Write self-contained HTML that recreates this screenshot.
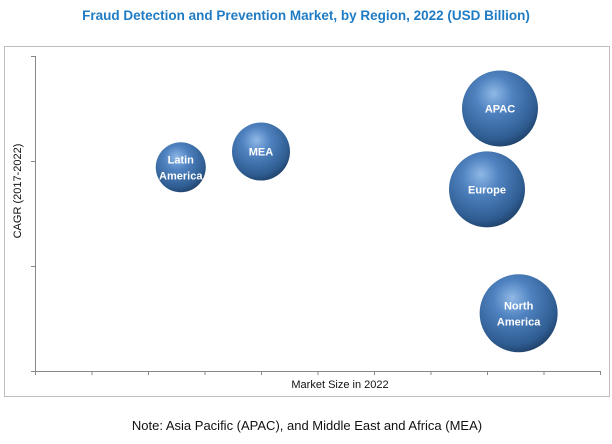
<!DOCTYPE html>
<html><head><meta charset="utf-8"><style>
body{margin:0;background:#fff;width:612px;height:439px;overflow:hidden}
svg text{font-family:"Liberation Sans",sans-serif}
</style></head><body>
<svg width="612" height="439">
<defs>
<radialGradient id="g" cx="0.42" cy="0.35" r="0.7" fx="0.42" fy="0.3">
<stop offset="0" stop-color="#8fb8e6"/>
<stop offset="0.35" stop-color="#4f82c0"/>
<stop offset="0.8" stop-color="#2f5d92"/>
<stop offset="1" stop-color="#1d3c62"/>
</radialGradient>
</defs>
<text x="306" y="20" text-anchor="middle" font-size="13.5" font-weight="bold" fill="#1f7cc4">Fraud Detection and Prevention Market, by Region, 2022 (USD Billion)</text>
<rect x="4.5" y="46.5" width="605" height="350" fill="none" stroke="#bdbdbd"/>
<g id="axes"></g>
<g id="bubbles"></g>
<text x="340" y="388" text-anchor="middle" font-size="11" fill="#111">Market Size in 2022</text>
<text transform="translate(21,191) rotate(-90)" text-anchor="middle" font-size="11" fill="#111">CAGR (2017-2022)</text>
<text x="307" y="430" text-anchor="middle" font-size="13" fill="#111">Note: Asia Pacific (APAC), and Middle East and Africa (MEA)</text>
</svg>
<script>
const regions=["Latin America","MEA","APAC","Europe","North America"];
const labelLines=[["Latin","America"],["MEA"],["APAC"],["Europe"],["North","America"]];
const marketSize=[2.58,4.0,8.23,8.0,8.56];
const cagr=[1.94,2.09,2.5,1.73,0.55];
const bubbleRadius=[25,29,38,38,39];
const xTicks=[0,1,2,3,4,5,6,7,8,9,10];
const yTicks=[0,1,2,3];
const ns="http://www.w3.org/2000/svg";
const X0=35,X1=600,Y0=371,Y1=56;
const xs=v=>X0+(X1-X0)*v/10;
const ys=v=>Y0-(Y0-Y1)*v/3;
const ax=document.getElementById('axes');
function ln(x1,y1,x2,y2,name){const l=document.createElementNS(ns,'line');
l.setAttribute('x1',x1);l.setAttribute('y1',y1);l.setAttribute('x2',x2);l.setAttribute('y2',y2);
l.setAttribute('stroke','#888');l.setAttribute('stroke-width','1');


ax.appendChild(l);}
ln(X0+.5,Y1,X0+.5,Y0,'y-axis-line');
ln(X0,Y0+.5,X1,Y0+.5,'x-axis-line');
xTicks.forEach(t=>ln(xs(t)+.5,Y0,xs(t)+.5,Y0+4,'x-tick'));
yTicks.forEach(t=>ln(X0-4,ys(t)+.5,X0,ys(t)+.5,'y-tick'));
const bg=document.getElementById('bubbles');
regions.forEach((r,i)=>{
const g=document.createElementNS(ns,'g');


const cx=xs(marketSize[i]),cy=ys(cagr[i]);
const c=document.createElementNS(ns,'circle');
c.setAttribute('cx',cx);c.setAttribute('cy',cy);c.setAttribute('r',bubbleRadius[i]);c.setAttribute('fill','url(#g)');
g.appendChild(c);
const lines=labelLines[i];
lines.forEach((s,j)=>{const t=document.createElementNS(ns,'text');
t.setAttribute('x',cx);t.setAttribute('y',cy+4+(j-(lines.length-1)/2)*16);
t.setAttribute('text-anchor','middle');t.setAttribute('font-size','11');t.setAttribute('font-weight','bold');t.setAttribute('fill','#fff');


t.textContent=s;g.appendChild(t);});
bg.appendChild(g);
});
</script>
</body></html>
